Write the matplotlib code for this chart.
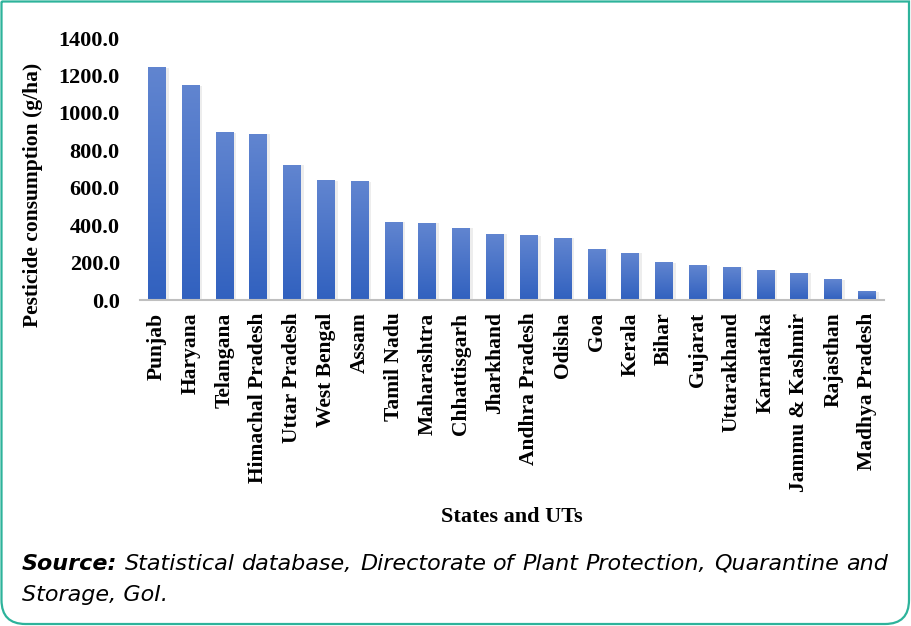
import numpy as np
import matplotlib
matplotlib.use("Agg")
import matplotlib.pyplot as plt
from matplotlib.colors import LinearSegmentedColormap
from matplotlib.path import Path
from matplotlib.patches import PathPatch
from matplotlib.ticker import FormatStrFormatter

states = ["Punjab", "Haryana", "Telangana", "Himachal Pradesh", "Uttar Pradesh",
          "West Bengal", "Assam", "Tamil Nadu", "Maharashtra", "Chhattisgarh",
          "Jharkhand", "Andhra Pradesh", "Odisha", "Goa", "Kerala", "Bihar",
          "Gujarat", "Uttarakhand", "Karnataka", "Jammu & Kashmir", "Rajasthan",
          "Madhya Pradesh"]
consumption = [1240, 1145, 893, 887, 721, 636, 631, 416, 411, 384,
               352, 342, 331, 272, 251, 198, 182, 176, 160, 144, 107, 43]

y_ticks = np.arange(0, 1401, 200)
y_label = "Pesticide consumption (g/ha)"
x_label = "States and UTs"
source_line1 = "Statistical database, Directorate of Plant Protection, Quarantine and"
source_line2 = "Storage, GoI."

W, H = 911, 626
serif = "Liberation Serif"
note_font = "DejaVu Sans"

fig = plt.figure(figsize=(W / 100, H / 100), dpi=100)
ax = fig.add_axes([140 / W, 1 - 300 / H, 744 / W, 262 / H])

x = np.arange(len(states))
width = 0.53
# soft shadow behind bars
ax.bar(x + 0.04, consumption, width + 0.08, color="black", alpha=0.07, zorder=1)
bars = ax.bar(x, consumption, width, color="none", zorder=2)

# vertical gradient fill for each bar
grad = np.linspace(0, 1, 256).reshape(-1, 1)
cmap = LinearSegmentedColormap.from_list("barfill", ["#3161bf", "#6185d0"])
for b in bars:
    x0, w, h = b.get_x(), b.get_width(), b.get_height()
    ax.imshow(grad, extent=[x0, x0 + w, 0, h], origin="lower", cmap=cmap,
              aspect="auto", zorder=2, interpolation="bicubic")

ax.set_xlim(-0.5, len(states) - 0.5)
ax.set_ylim(0, 1400)
ax.set_yticks(y_ticks)
ax.yaxis.set_major_formatter(FormatStrFormatter("%.1f"))
ax.set_xticks(x)
ax.set_xticklabels(states, rotation=90, fontfamily=serif, fontweight="bold", fontsize=15.5)
for t in ax.get_yticklabels():
    t.set_fontfamily(serif)
    t.set_fontweight("bold")
    t.set_fontsize(16)
ax.tick_params(axis="both", length=0)
ax.tick_params(axis="y", pad=14.5)
ax.tick_params(axis="x", pad=9)

for s in ["left", "top", "right"]:
    ax.spines[s].set_visible(False)
ax.spines["bottom"].set_color("#bfbfbf")
ax.spines["bottom"].set_linewidth(1.5)

fig.text(33 / W, 1 - 195 / H, y_label, rotation=90, ha="center", va="center",
         fontfamily=serif, fontweight="bold", fontsize=15.5)
fig.text(512 / W, 1 - 517 / H, x_label, ha="center", va="center",
         fontfamily=serif, fontweight="bold", fontsize=16)

# justified source note
renderer = fig.canvas.get_renderer()
left_px, right_px = 22, 888
words = ["Source:"] + source_line1.split()
pieces = []
for i, wd in enumerate(words):
    t = fig.text(0, 0, wd, fontfamily=note_font, fontstyle="italic", fontsize=16,
                 fontweight="bold" if i == 0 else "normal", va="baseline")
    pieces.append(t)
widths = [p.get_window_extent(renderer).width for p in pieces]
gap = (right_px - left_px - sum(widths)) / (len(pieces) - 1)
cur = left_px
for p, wpx in zip(pieces, widths):
    p.set_position((cur / W, 1 - 570 / H))
    cur += wpx + gap
fig.text(left_px / W, 1 - 601 / H, source_line2, fontfamily=note_font,
         fontstyle="italic", fontsize=16, va="baseline")

# frame: straight top, rounded bottom corners
l, r, t_, b_, rad = 1.5, 909, 1.5, 624, 24
pts = [(l, t_), (r, t_), (r, b_ - rad), (r, b_), (r - rad, b_),
       (l + rad, b_), (l, b_), (l, b_ - rad), (l, t_)]
codes = [Path.MOVETO, Path.LINETO, Path.LINETO, Path.CURVE3, Path.CURVE3,
         Path.LINETO, Path.CURVE3, Path.CURVE3, Path.LINETO]
frame = Path([(px / W, 1 - py / H) for px, py in pts], codes)
fig.patches.append(PathPatch(frame, transform=fig.transFigure, fill=False,
                             edgecolor="#2db39b", linewidth=1.6))

fig.savefig("out.png", dpi=100)
